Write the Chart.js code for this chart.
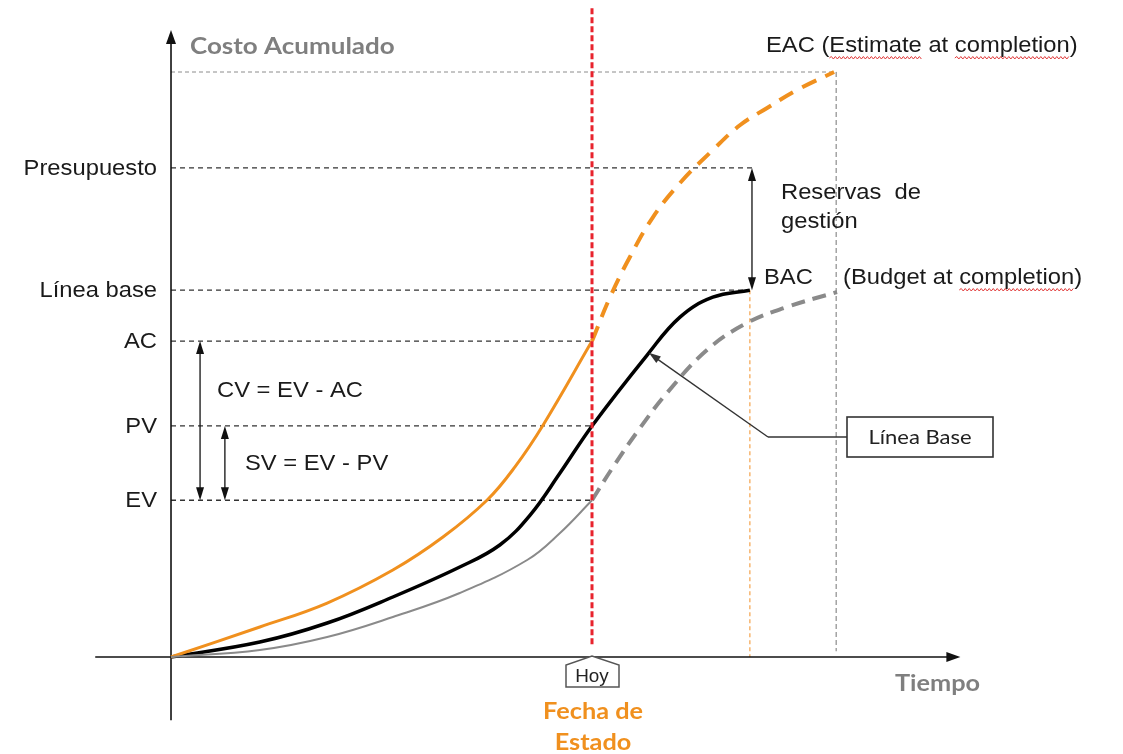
<!DOCTYPE html>
<html>
<head>
<meta charset="utf-8">
<script src="https://cdn.jsdelivr.net/npm/chart.js@4"></script>
<style>
  body { margin: 0; background: #fff; }
  #caja { width: 1123px; height: 754px; position: relative; }
</style>
</head>
<body>
<div id="caja"><canvas id="chart"></canvas></div>
<script>
// Datos (unidades: tiempo en x, costo acumulado en y)
const hoyX = 10;
const bacX = 13.75;
const eacX = 15.8;
const eacValor = 100;

const nivelEtiquetas = ['Presupuesto', 'Línea base', 'AC', 'PV', 'EV'];
const nivelValores = [83.6, 62.7, 54, 39.5, 26.8];

// AC - costo real (naranja)
const acX = [0, 2.11, 3.71, 5.27, 6.46, 7.51, 8.17, 8.84, 10];
const acY = [0, 5.13, 9.23, 14.87, 20.51, 26.84, 32.5, 39.66, 54];

// EAC - proyección (naranja punteado)
const eacSerieX = [10, 10.43, 10.9, 11.45, 12.09, 12.87, 13.52, 14.16, 14.87, 15.75];
const eacSerieY = [54, 61.54, 68.38, 75.21, 81.03, 86.67, 90.94, 93.85, 96.92, 100];

// PV - línea base (negro)
const pvX = [0, 2.11, 3.71, 5.27, 6.86, 7.81, 8.53, 9.24, 10, 11.31, 12.09, 12.87, 13.75];
const pvY = [0, 2.56, 5.81, 10.26, 15.38, 19.15, 24.27, 31.45, 39.5, 51.62, 58.1, 61.5, 62.7];

// EV - valor ganado (gris)
const evX = [0, 2.11, 3.71, 5.27, 6.86, 8.46, 9.24, 10];
const evY = [0, 1.2, 3.42, 6.84, 10.94, 16.58, 21.2, 26.8];

// EV proyectado (gris punteado)
const evProyX = [10, 10.5, 11.14, 11.78, 12.73, 13.68, 14.63, 15.82];
const evProyY = [26.8, 32.48, 39.15, 45.13, 52.48, 57.09, 59.83, 62.39];

const naranja = '#f0901e';
const gris = '#8a8a8a';

function puntos(xs, ys) {
    return xs.map((x, i) => ({ x: x, y: ys[i] }));
}

function linea(ctx, x1, y1, x2, y2, color, ancho, dash) {
    ctx.save();
    ctx.strokeStyle = color;
    ctx.lineWidth = ancho;
    ctx.setLineDash(dash || []);
    ctx.beginPath();
    ctx.moveTo(x1, y1);
    ctx.lineTo(x2, y2);
    ctx.stroke();
    ctx.restore();
}

function punta(ctx, x, y, angulo, largo, medio, color) {
    ctx.save();
    ctx.translate(x, y);
    ctx.rotate(angulo);
    ctx.fillStyle = color;
    ctx.beginPath();
    ctx.moveTo(0, 0);
    ctx.lineTo(-largo, -medio);
    ctx.lineTo(-largo, medio);
    ctx.closePath();
    ctx.fill();
    ctx.restore();
}

function dobleFlecha(ctx, x, y1, y2) {
    linea(ctx, x, y1 + 4, x, y2 - 4, '#111', 1.3);
    punta(ctx, x, y1, -Math.PI / 2, 13, 4, '#111');
    punta(ctx, x, y2, Math.PI / 2, 13, 4, '#111');
}

function ondulado(ctx, x1, x2, y) {
    ctx.save();
    ctx.strokeStyle = '#e03a3a';
    ctx.lineWidth = 1;
    ctx.beginPath();
    ctx.moveTo(x1, y);
    let arriba = true;
    for (let x = x1 + 2; x <= x2; x += 2) {
        ctx.lineTo(x, arriba ? y - 1.5 : y + 1);
        arriba = !arriba;
    }
    ctx.stroke();
    ctx.restore();
}

// texto estirado en horizontal
function texto(ctx, t, x, y, align, estirar) {
    const w = ctx.measureText(t).width * estirar;
    let x0 = x;
    if (align === 'right') x0 = x - w;
    if (align === 'center') x0 = x - w / 2;
    ctx.save();
    ctx.textAlign = 'left';
    ctx.translate(x0, y);
    ctx.scale(estirar, 1);
    ctx.fillText(t, 0, 0);
    ctx.restore();
    return w;
}

const fondo = {
    id: 'fondo',
    beforeDatasetsDraw(chart) {
        const ctx = chart.ctx;
        const px = v => chart.scales.x.getPixelForValue(v);
        const py = v => chart.scales.y.getPixelForValue(v);
        const dash = [5, 4];

        // líneas de referencia horizontales
        linea(ctx, px(0), py(eacValor), px(eacX), py(eacValor), '#8c8c8c', 1, [4, 3]);
        linea(ctx, px(0), py(nivelValores[0]), px(13.8), py(nivelValores[0]), '#333', 1.3, dash);
        linea(ctx, px(0), py(nivelValores[1]), px(bacX), py(nivelValores[1]), '#333', 1.3, dash);
        for (let i = 2; i < nivelValores.length; i++) {
            linea(ctx, px(0), py(nivelValores[i]), px(hoyX), py(nivelValores[i]), '#333', 1.3, dash);
        }

        // verticales
        linea(ctx, px(bacX), py(nivelValores[1]), px(bacX), py(0), '#f4a24a', 1.2, [4, 3]);
        linea(ctx, px(eacX), py(eacValor), px(eacX), py(1), '#8c8c8c', 1.2, [5, 3]);

        // ejes
        linea(ctx, px(-1.8), py(0), px(18.5), py(0), '#111', 1.6);
        punta(ctx, px(18.75), py(0), 0, 14, 5, '#111');
        linea(ctx, px(0), py(-10.8), px(0), py(105), '#111', 1.6);
        punta(ctx, px(0), py(107.2), -Math.PI / 2, 14, 5, '#111');
    },
    afterDatasetsDraw(chart) {
        const ctx = chart.ctx;
        const px = v => chart.scales.x.getPixelForValue(v);
        const py = v => chart.scales.y.getPixelForValue(v);

        // Fecha de estado (rojo)
        linea(ctx, px(hoyX), py(110.9), px(hoyX), py(2), '#e8232d', 3, [6, 3]);

        // flechas de variación
        dobleFlecha(ctx, px(0.69), py(nivelValores[2]), py(nivelValores[4]));
        dobleFlecha(ctx, px(1.28), py(nivelValores[3]), py(nivelValores[4]));
        dobleFlecha(ctx, px(13.8), py(nivelValores[0]), py(nivelValores[1]));

        // textos
        const k = 1.08;
        ctx.save();
        ctx.textBaseline = 'middle';
        ctx.fillStyle = '#1a1a1a';
        ctx.font = '22px "Liberation Sans", Arial, sans-serif';
        nivelEtiquetas.forEach((t, i) => texto(ctx, t, 157, py(nivelValores[i]) + 1, 'right', k));

        texto(ctx, 'CV = EV - AC', 217, 391, 'left', k);
        texto(ctx, 'SV = EV - PV', 245, 464, 'left', k);
        texto(ctx, 'Reservas  de', 781, 193, 'left', k);
        texto(ctx, 'gestión', 781, 222, 'left', k);
        texto(ctx, 'BAC', 764, 278, 'left', k);

        texto(ctx, 'EAC (Estimate at completion)', 766, 46, 'left', k);
        const a = 766 + ctx.measureText('EAC (').width * k;
        const b = a + ctx.measureText('Estimate').width * k;
        const c = 766 + ctx.measureText('EAC (Estimate at ').width * k;
        const d = c + ctx.measureText('completion').width * k;
        ondulado(ctx, a, b, 58);
        ondulado(ctx, c, d, 58);

        texto(ctx, '(Budget at completion)', 843, 278, 'left', k);
        const e = 843 + ctx.measureText('(Budget at ').width * k;
        const f = e + ctx.measureText('completion').width * k;
        ondulado(ctx, e, f, 290);

        // títulos en negrita
        const kb = 1.1;
        ctx.font = 'bold 23px Lato, "Open Sans", sans-serif';
        ctx.fillStyle = '#7f7f7f';
        texto(ctx, 'Costo Acumulado', 190, 47, 'left', 1.13);
        texto(ctx, 'Tiempo', 895, 684, 'left', kb);
        ctx.fillStyle = naranja;
        texto(ctx, 'Fecha de', 593, 712, 'center', kb);
        texto(ctx, 'Estado', 593, 743, 'center', kb);

        // caja Hoy
        const hx = px(hoyX);
        ctx.strokeStyle = '#555';
        ctx.lineWidth = 1.5;
        ctx.fillStyle = '#fff';
        ctx.beginPath();
        ctx.moveTo(hx - 26, 687);
        ctx.lineTo(hx - 26, 665);
        ctx.lineTo(hx, 656);
        ctx.lineTo(hx + 27, 665);
        ctx.lineTo(hx + 27, 687);
        ctx.closePath();
        ctx.fill();
        ctx.stroke();
        ctx.fillStyle = '#222';
        ctx.font = '18px "Liberation Sans", Arial, sans-serif';
        texto(ctx, 'Hoy', hx, 677, 'center', 1.05);

        // llamada Línea Base
        const lx = px(11.35), ly = py(52);
        linea(ctx, lx + 4, ly + 3, 768, 437, '#333', 1.4);
        linea(ctx, 768, 437, 847, 437, '#333', 1.4);
        punta(ctx, lx, ly, Math.atan2(ly - 437, lx - 768), 12, 4, '#333');
        ctx.strokeStyle = '#333';
        ctx.lineWidth = 1.6;
        ctx.strokeRect(847, 417, 146, 40);
        ctx.fillStyle = '#222';
        ctx.font = '20px Lato, "Open Sans", sans-serif';
        texto(ctx, 'Línea Base', 920, 438, 'center', 1.1);
        ctx.restore();
    }
};

const ctx = document.getElementById('chart').getContext('2d');
new Chart(ctx, {
    type: 'scatter',
    data: {
        datasets: [
            { label: 'EV', data: puntos(evX, evY), borderColor: gris, borderWidth: 2 },
            { label: 'EV proyectado', data: puntos(evProyX, evProyY), borderColor: gris, borderWidth: 4, borderDash: [14, 8] },
            { label: 'EAC', data: puntos(eacSerieX, eacSerieY), borderColor: naranja, borderWidth: 4, borderDash: [16, 10] },
            { label: 'AC', data: puntos(acX, acY), borderColor: naranja, borderWidth: 3 },
            { label: 'PV', data: puntos(pvX, pvY), borderColor: '#000', borderWidth: 3.5 }
        ].map(ds => Object.assign(ds, {
            showLine: true,
            pointRadius: 0,
            tension: 0.4,
            fill: false
        }))
    },
    options: {
        responsive: true,
        maintainAspectRatio: false,
        animation: false,
        layout: { padding: 0 },
        plugins: { legend: { display: false }, tooltip: { enabled: false } },
        scales: {
            x: { type: 'linear', display: false, min: -4.062, max: 22.613 },
            y: { type: 'linear', display: false, min: -16.58, max: 112.31 }
        }
    },
    plugins: [fondo]
});
</script>
</body>
</html>
